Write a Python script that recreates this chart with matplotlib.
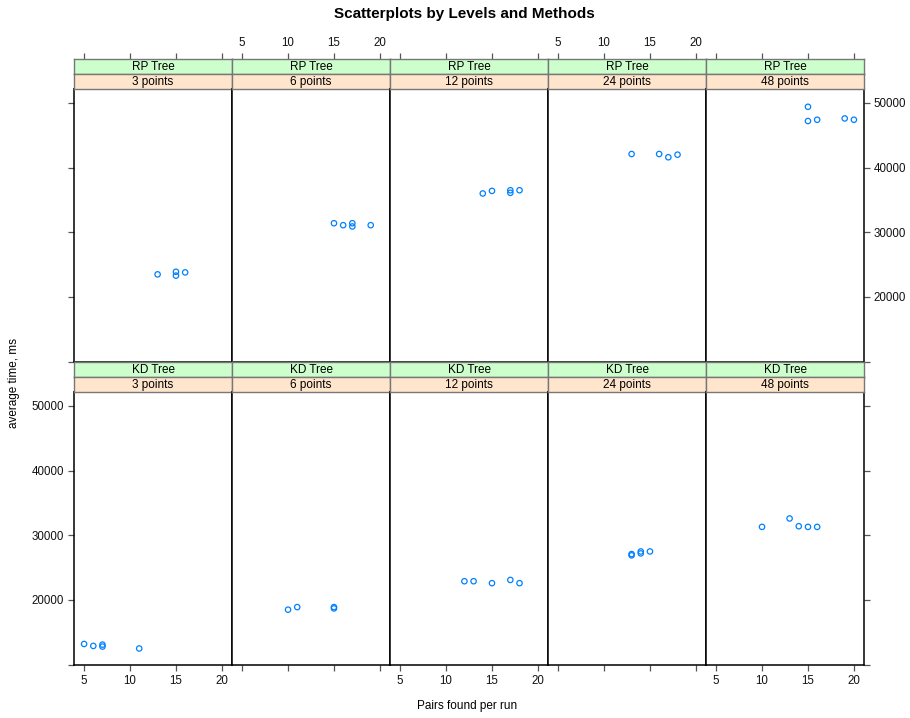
import matplotlib
matplotlib.use("Agg")
import matplotlib.pyplot as plt

plt.rcParams['font.family'] = ['Liberation Sans', 'DejaVu Sans']

methods = ["RP Tree", "KD Tree"]
levels = ["3 points", "6 points", "12 points", "24 points", "48 points"]

# pairs found per run (x) and average time in ms (y), one list per panel
rp_x = [[13, 15, 15, 16],
        [15, 16, 17, 17, 19],
        [14, 15, 17, 17, 18],
        [13, 16, 17, 18],
        [15, 15, 16, 19, 20]]
rp_y = [[23500, 23900, 23300, 23800],
        [31400, 31100, 31400, 30900, 31100],
        [36000, 36400, 36500, 36100, 36500],
        [42100, 42100, 41600, 42000],
        [49400, 47200, 47400, 47600, 47400]]
kd_x = [[5, 6, 7, 7, 11],
        [10, 11, 15, 15],
        [12, 13, 15, 17, 18],
        [13, 13, 14, 14, 15],
        [10, 13, 14, 15, 16]]
kd_y = [[13200, 12900, 13100, 12800, 12500],
        [18500, 18900, 18900, 18700],
        [22900, 22900, 22600, 23100, 22600],
        [26900, 27100, 27500, 27200, 27500],
        [31300, 32600, 31400, 31300, 31300]]

xticks = [5, 10, 15, 20]
yticks = [10000, 20000, 30000, 40000, 50000]
ytick_labels = ["", "20000", "30000", "40000", "50000"]

W, H = 910, 718
fig = plt.figure(figsize=(W / 100, H / 100), dpi=100)

pw, ph, sh = 158, 273, 15
left0 = 74
panel_top = [89, 392]   # pixel top of each row's panel
xlim = (3.9, 21.1)

def frac(x, y, w, h):
    return [x / W, 1 - (y + h) / H, w / W, h / H]

tick_style = dict(direction='out', length=4.5, width=0.9, color='#555555',
                  labelsize=8.3, pad=2.5, labelcolor='#111111')

data = [(rp_x, rp_y), (kd_x, kd_y)]
for r, meth in enumerate(methods):
    xs, ys = data[r]
    for c, lev in enumerate(levels):
        px = left0 + c * pw
        ax = fig.add_axes(frac(px, panel_top[r], pw, ph))
        ax.scatter(xs[c], ys[c], s=15, facecolors='none',
                   edgecolors='#0080ff', linewidths=0.9, zorder=3)
        ax.set_xlim(*xlim)
        ax.set_ylim(9950, 52150)
        ax.set_xticks(xticks)
        ax.set_yticks(yticks)
        ax.set_yticklabels(ytick_labels)
        for sp in ax.spines.values():
            sp.set_linewidth(1.1)
            sp.set_color('black')
        ax.tick_params(**tick_style)
        if r == 0:
            # top axis goes above the strips, see below
            ax.tick_params(axis='x', top=False, bottom=False,
                           labeltop=False, labelbottom=False)
            ax.tick_params(axis='y', left=(c == 0), right=(c == 4),
                           labelleft=False, labelright=(c == 4))
        else:
            ax.tick_params(axis='x', top=False, bottom=True,
                           labeltop=False, labelbottom=(c in (0, 2, 4)))
            ax.tick_params(axis='y', left=(c == 0), right=(c == 4),
                           labelleft=(c == 0), labelright=False)

        # two-level strips: method (green) above level (orange)
        for k, (txt, col) in enumerate([(meth, '#ccffcc'), (lev, '#ffe5cc')]):
            sax = fig.add_axes(frac(px, panel_top[r] - 2 * sh + k * sh, pw, sh))
            sax.set_facecolor(col)
            sax.set_xlim(*xlim)
            sax.set_yticks([])
            if r == 0 and k == 0:
                sax.set_xticks(xticks)
                sax.tick_params(**tick_style)
                sax.tick_params(axis='x', top=True, bottom=False,
                                labeltop=(c in (1, 3)), labelbottom=False)
            else:
                sax.set_xticks([])
            for sp in sax.spines.values():
                sp.set_color('#777777')
                sp.set_linewidth(1.0)
            sax.text(0.5, 0.47, txt, ha='center', va='center',
                     fontsize=8.5, transform=sax.transAxes)

fig.text(464 / W, 1 - 14 / H, "Scatterplots by Levels and Methods",
         ha='center', va='center', fontsize=11, fontweight='bold')
fig.text(467 / W, 1 - 706 / H, "Pairs found per run",
         ha='center', va='center', fontsize=8.5)
fig.text(14 / W, 1 - 383 / H, "average time, ms", rotation=90,
         ha='center', va='center', fontsize=8.5)

fig.savefig("out.png", dpi=100)
